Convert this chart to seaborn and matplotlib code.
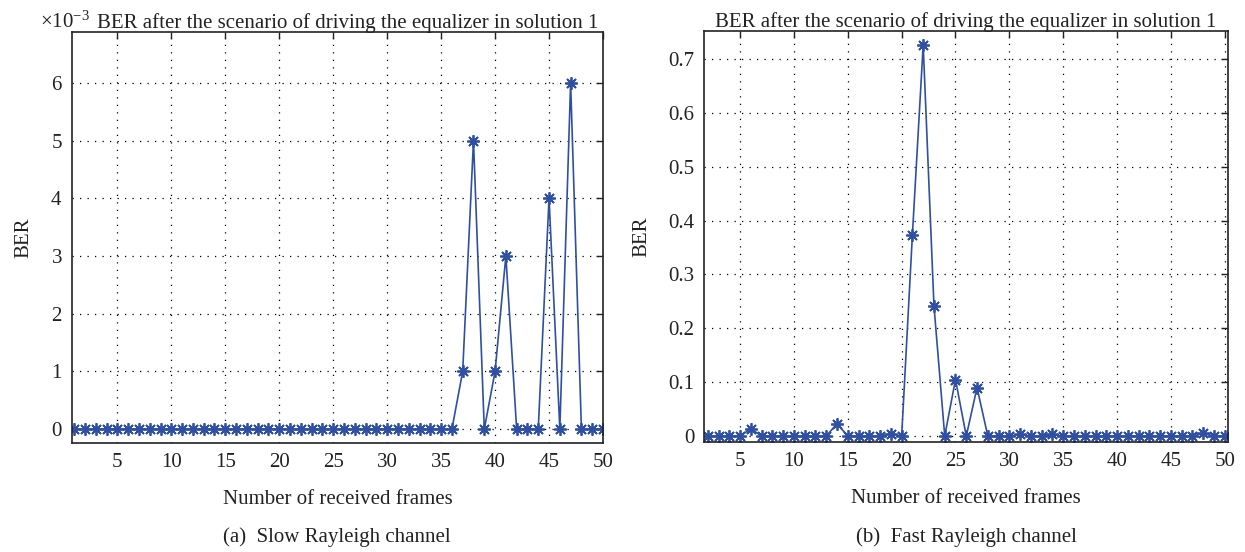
import numpy as np
import pandas as pd
import matplotlib
matplotlib.use("Agg")
import matplotlib.pyplot as plt
import seaborn as sns
from matplotlib.ticker import ScalarFormatter

# ---- data ----
frames_slow = list(range(1, 51))
ber_slow = [0.0] * 36 + [0.001, 0.005, 0.0, 0.001, 0.003, 0.0, 0.0, 0.0,
                         0.004, 0.0, 0.006, 0.0, 0.0, 0.0]

frames_fast = list(range(2, 51))
ber_fast = [0.0, 0.0, 0.0, 0.0,            # 2-5
            0.0136,                        # 6
            0.0, 0.0, 0.0, 0.0, 0.0, 0.0, 0.0,  # 7-13
            0.023,                         # 14
            0.0, 0.0, 0.0, 0.0,            # 15-18
            0.0045,                        # 19
            0.0,                           # 20
            0.374, 0.726, 0.242,           # 21-23
            0.0,                           # 24
            0.105,                         # 25
            0.0,                           # 26
            0.090,                         # 27
            0.0, 0.0, 0.0,                 # 28-30
            0.003,                         # 31
            0.0, 0.0,                      # 32-33
            0.003,                         # 34
            0.0, 0.0, 0.0, 0.0, 0.0, 0.0, 0.0, 0.0, 0.0, 0.0, 0.0, 0.0, 0.0,  # 35-47
            0.005,                         # 48
            0.0, 0.0]                      # 49-50

xticks = [5, 10, 15, 20, 25, 30, 35, 40, 45, 50]
yticks_slow = [0, 0.001, 0.002, 0.003, 0.004, 0.005, 0.006]
yticks_fast = [0, 0.1, 0.2, 0.3, 0.4, 0.5, 0.6, 0.7]

title = "BER after the scenario of driving the equalizer in solution 1"
xlabel = "Number of received frames"
ylabel = "BER"
captions = ["(a)  Slow Rayleigh channel", "(b)  Fast Rayleigh channel"]

# ---- style ----
sns.set_style("white")
plt.rcParams['font.family'] = ['Liberation Serif', 'DejaVu Serif']
plt.rcParams['mathtext.fontset'] = 'custom'
plt.rcParams['mathtext.rm'] = 'Liberation Serif'
plt.rcParams['axes.unicode_minus'] = True

line_color = "#2f4fa3"
text_color = "#222222"
FS = 15
fig = plt.figure(figsize=(12.45, 5.52), dpi=100)

ax1 = fig.add_axes([72/1245, (552-443)/552, (603-72)/1245, (443-32)/552])
ax2 = fig.add_axes([704/1245, (552-442)/552, (1228-704)/1245, (442-31)/552])

df1 = pd.DataFrame({"frame": frames_slow, "ber": ber_slow})
df2 = pd.DataFrame({"frame": frames_fast, "ber": ber_fast})

for ax, df in [(ax1, df1), (ax2, df2)]:
    sns.lineplot(data=df, x="frame", y="ber", ax=ax, color=line_color,
                 marker=(8, 2, 0), markersize=9, markeredgewidth=1.3,
                 markeredgecolor=line_color, linewidth=1.2)

ax1.set_xlim(0.8, 50)
ax1.set_ylim(-0.00024, 0.00688)
ax1.set_yticks(yticks_slow)
fmt = ScalarFormatter(useMathText=True)
fmt.set_powerlimits((-3, -3))
ax1.yaxis.set_major_formatter(fmt)

ax2.set_xlim(1.65, 50.3)
ax2.set_ylim(-0.011, 0.752)
ax2.set_yticks(yticks_fast)
ax2.set_yticklabels([("%g" % v) for v in yticks_fast])

for ax in (ax1, ax2):
    ax.set_xticks(xticks)
    ax.set_xticklabels([str(v) for v in xticks])
    ax.grid(True, linestyle=(0, (1, 5)), color="black", linewidth=0.9)
    ax.tick_params(direction="in", length=5, width=1, top=True, right=True,
                   labelsize=FS, colors=text_color, pad=7)
    for s in ax.spines.values():
        s.set_color(text_color)
        s.set_linewidth(1.2)
        s.set_visible(True)
    ax.set_xlabel(xlabel, fontsize=FS, labelpad=13, color=text_color)
    ax.set_ylabel(ylabel, fontsize=FS, labelpad=12, color=text_color)
    ax.set_title(title, fontsize=FS, pad=3, color=text_color)

ax1.title.set_x(0.52)
ax1.yaxis.get_offset_text().set_fontsize(FS)
ax1.yaxis.get_offset_text().set_x(-0.06)

fig.text(337/1245, 1 - 537/552, captions[0], ha="center", va="center", fontsize=FS, color=text_color)
fig.text(966/1245, 1 - 537/552, captions[1], ha="center", va="center", fontsize=FS, color=text_color)

fig.savefig("out.png", dpi=100)
